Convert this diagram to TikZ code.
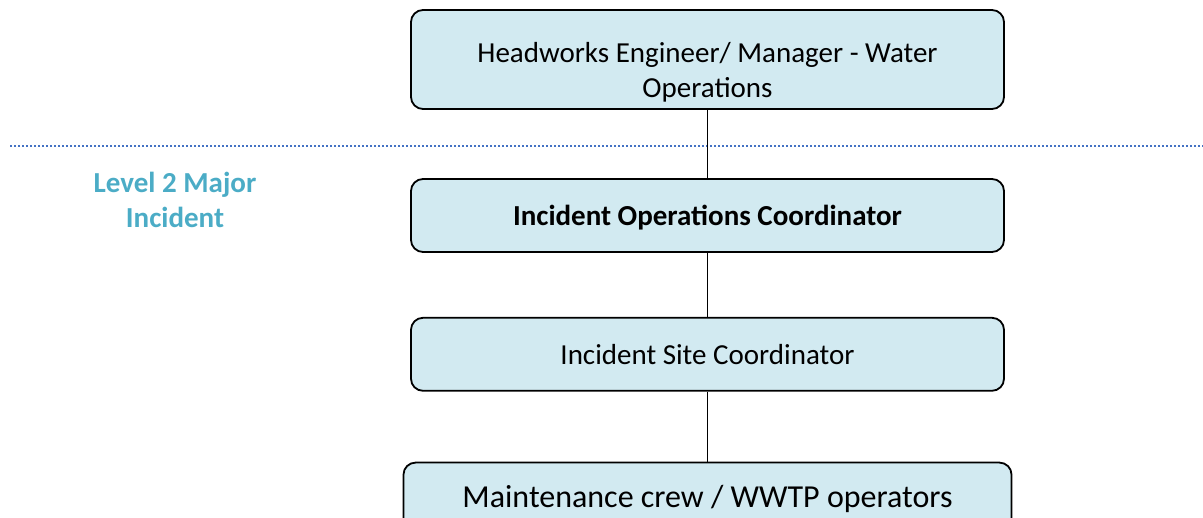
\documentclass[tikz,border=0pt]{standalone}
\usepackage{fontspec}
\setmainfont{Carlito}
\definecolor{BoxFill}{RGB}{210, 234, 241}
\definecolor{LevelAqua}{RGB}{75, 172, 198}
\definecolor{SplitBlue}{RGB}{68, 114, 196}
\usetikzlibrary{positioning}

\begin{document}
\begin{tikzpicture}[
        x=1pt, y=-1pt,
        node distance=70pt,
        role/.style={rectangle, draw, line width=1.8pt, fill=BoxFill, rounded corners=12pt, minimum width=593pt, minimum height=73pt, align=center, font=\fontsize{29}{35}\selectfont},
        roletext/.style={align=center, font=\fontsize{29}{35}\selectfont},
        level/.style={align=center, text=LevelAqua, font=\bfseries\fontsize{29}{35}\selectfont},
        split/.style={draw=SplitBlue, line width=2pt, dash pattern=on 2pt off 2pt},
        link/.style={draw, line width=1.8pt}
    ]
        \useasboundingbox (0,0) rectangle (1203,518);

        \coordinate (sl) at (10,146);
        \coordinate (sr) at (1203,146);
        \path [split] (sl) -- (sr);

        \node [role, minimum height=99pt,
            label={[roletext, name=headtext, yshift=-13pt]center:Headworks Engineer/ Manager - Water\\Operations}] (head) at (707.5,59.5) {};
        \node [role, text depth=-4pt, font=\bfseries\fontsize{29}{35}\selectfont] (ioc) at (707.5,215.5) {Incident Operations Coordinator};
        \node [role, below=64pt of ioc] (isc) {Incident Site Coordinator};
        \node [role, below=70pt of isc, minimum width=608pt, font=\fontsize{32}{35}\selectfont] (crew) {Maintenance crew / WWTP operators};

        \node [level] (lvl) at (175,200) {Level 2 Major\\Incident};

        \path [link] (head) -- (ioc);
        \path [link] (ioc) -- (isc);
        \path [link] (isc) -- (crew);
    \end{tikzpicture}
\end{document}
